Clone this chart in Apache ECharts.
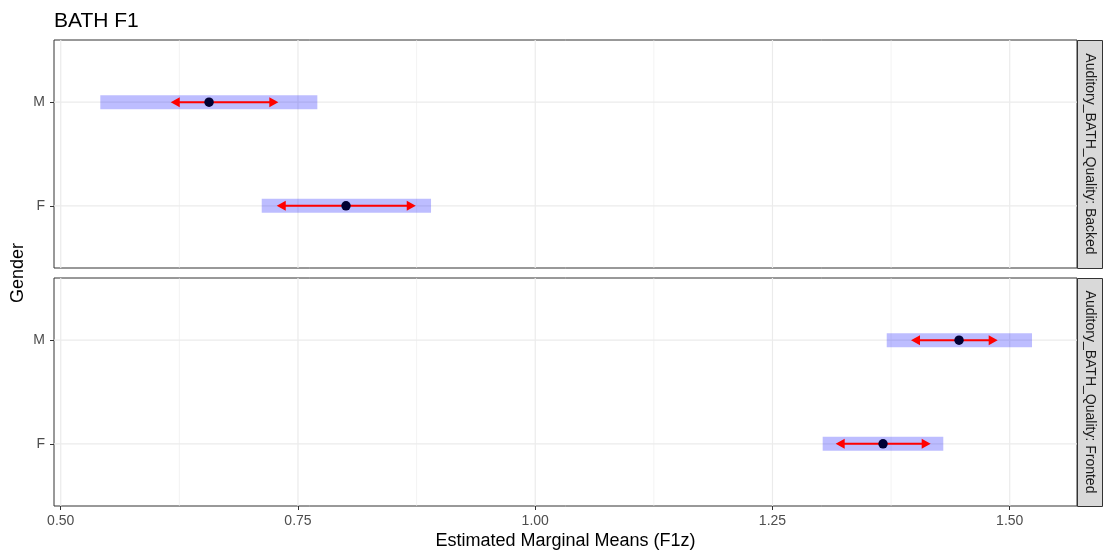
<!DOCTYPE html>
<html><head><meta charset="utf-8">
<script src="https://cdn.jsdelivr.net/npm/echarts@6/dist/echarts.min.js"></script>
<style>html,body{margin:0;padding:0;background:#fff}#chart{width:1103px;height:553px}</style>
</head><body><div id="chart"></div>
<script>
const categories = ['F', 'M'];
const panelLabels = ['Auditory_BATH_Quality: Backed', 'Auditory_BATH_Quality: Fronted'];
// Backed panel (order F, M)
const backedMean = [0.8006, 0.6563];
const backedLower = [0.7118, 0.5417];
const backedUpper = [0.8902, 0.7704];
const backedArrowLeft = [0.7276, 0.6159];
const backedArrowRight = [0.8741, 0.7293];
// Fronted panel (order F, M)
const frontedMean = [1.3665, 1.4466];
const frontedLower = [1.3029, 1.3704];
const frontedUpper = [1.4300, 1.5235];
const frontedArrowLeft = [1.3166, 1.3960];
const frontedArrowRight = [1.4167, 1.4873];
// axis breaks
const xMajor = [0.5, 0.75, 1.0, 1.25, 1.5];
const xMinor = [0.625, 0.875, 1.125, 1.375];
const yPos = [1, 2];

const FONT = '"Liberation Sans", Arial, Helvetica, sans-serif';
const XMIN = 0.4929, XMAX = 1.5709, YMIN = 0.4, YMAX = 2.6;
const grids = [
  {left: 54, top: 40, width: 1023, height: 228},
  {left: 54, top: 278, width: 1023, height: 228}
];

function rows(lower, upper, mean, al, ar) {
  return categories.map((c, i) => [yPos[i], lower[i], upper[i], mean[i], al[i], ar[i]]);
}
const panelData = [
  rows(backedLower, backedUpper, backedMean, backedArrowLeft, backedArrowRight),
  rows(frontedLower, frontedUpper, frontedMean, frontedArrowLeft, frontedArrowRight)
];

function vGrid(width) {
  return function (params, api) {
    const x = api.coord([api.value(0), 1.5])[0];
    const cs = params.coordSys;
    return {type: 'line', shape: {x1: x, y1: cs.y, x2: x, y2: cs.y + cs.height},
      style: {stroke: '#ebebeb', lineWidth: width}};
  };
}
function hGrid(params, api) {
  const y = api.coord([1, api.value(1)])[1];
  const cs = params.coordSys;
  return {type: 'line', shape: {x1: cs.x, y1: y, x2: cs.x + cs.width, y2: y},
    style: {stroke: '#ebebeb', lineWidth: 1.2}};
}
function renderEst(params, api) {
  const yv = api.value(0);
  const lo = api.coord([api.value(1), yv]);
  const hi = api.coord([api.value(2), yv]);
  const m = api.coord([api.value(3), yv]);
  const al = api.coord([api.value(4), yv]);
  const ar = api.coord([api.value(5), yv]);
  const y = lo[1];
  const h = 14, ah = 9, aw = 5;
  return {type: 'group', children: [
    {type: 'rect', shape: {x: lo[0], y: y - h / 2, width: hi[0] - lo[0], height: h},
      style: {fill: 'rgba(0,0,255,0.26)'}},
    {type: 'line', shape: {x1: al[0] + ah - 1, y1: y, x2: ar[0] - ah + 1, y2: y},
      style: {stroke: '#ff0000', lineWidth: 2}},
    {type: 'polygon', shape: {points: [[al[0], y], [al[0] + ah, y - aw], [al[0] + ah, y + aw]]},
      style: {fill: '#ff0000'}},
    {type: 'polygon', shape: {points: [[ar[0], y], [ar[0] - ah, y - aw], [ar[0] - ah, y + aw]]},
      style: {fill: '#ff0000'}},
    {type: 'circle', shape: {cx: m[0], cy: y, r: 4.7}, style: {fill: '#000033'}}
  ]};
}

const xAxes = grids.map((g, i) => ({
  type: 'value', gridIndex: i, min: XMIN, max: XMAX,
  splitLine: {show: false}, axisLine: {show: false},
  axisTick: {show: i === 1, customValues: xMajor, length: 4, lineStyle: {color: '#333', width: 1}},
  axisLabel: {show: i === 1, customValues: xMajor, margin: 8, fontSize: 14, color: '#4d4d4d',
    fontFamily: FONT, formatter: v => v.toFixed(2)},
  name: i === 1 ? 'Estimated Marginal Means (F1z)' : '',
  nameLocation: 'middle', nameGap: 26,
  nameTextStyle: {fontSize: 18, color: '#000', fontFamily: FONT}
}));
const yAxes = grids.map((g, i) => ({
  type: 'value', gridIndex: i, min: YMIN, max: YMAX,
  splitLine: {show: false}, axisLine: {show: false},
  axisTick: {show: true, customValues: yPos, length: 4, lineStyle: {color: '#333', width: 1}},
  axisLabel: {customValues: yPos, margin: 9, fontSize: 14, color: '#4d4d4d', fontFamily: FONT,
    formatter: v => categories[Math.round(v) - 1]}
}));

const series = [];
grids.forEach((g, i) => {
  series.push({type: 'custom', xAxisIndex: i, yAxisIndex: i, renderItem: vGrid(0.6),
    data: xMinor.map(v => [v, 1.5]), encode: {x: 0, y: 1}, silent: true, z: 1});
  series.push({type: 'custom', xAxisIndex: i, yAxisIndex: i, renderItem: vGrid(1.2),
    data: xMajor.map(v => [v, 1.5]), encode: {x: 0, y: 1}, silent: true, z: 1});
  series.push({type: 'custom', xAxisIndex: i, yAxisIndex: i, renderItem: hGrid,
    data: yPos.map(v => [1, v]), encode: {x: 0, y: 1}, silent: true, z: 1});
  series.push({type: 'custom', xAxisIndex: i, yAxisIndex: i, renderItem: renderEst,
    data: panelData[i], encode: {x: [1, 2, 3, 4, 5], y: 0}, z: 5});
});

const graphics = [];
grids.forEach((g, i) => {
  graphics.push({type: 'rect', left: 1077, top: g.top, z: 10,
    shape: {width: 25, height: g.height},
    style: {fill: '#d9d9d9', stroke: '#333', lineWidth: 1}});
  graphics.push({type: 'text', x: 1090, y: g.top + g.height / 2, rotation: -Math.PI / 2, z: 11,
    style: {text: panelLabels[i], fontSize: 14, fill: '#1a1a1a', fontFamily: FONT,
      align: 'center', verticalAlign: 'middle'}});
});
graphics.push({type: 'text', x: 18, y: 273, rotation: Math.PI / 2, z: 11,
  style: {text: 'Gender', fontSize: 18, fill: '#000', fontFamily: FONT,
    align: 'center', verticalAlign: 'middle'}});

const chart = echarts.init(document.getElementById('chart'), null, {renderer: 'canvas'});
chart.setOption({
  animation: false,
  backgroundColor: '#fff',
  title: {text: 'BATH F1', left: 49, top: 6,
    textStyle: {fontSize: 21, fontWeight: 'normal', color: '#000', fontFamily: FONT}},
  grid: grids.map(g => ({left: g.left, top: g.top, width: g.width, height: g.height,
    outerBoundsMode: 'none', containLabel: false,
    show: true, backgroundColor: '#fff', borderColor: '#333', borderWidth: 1})),
  xAxis: xAxes,
  yAxis: yAxes,
  series: series,
  graphic: graphics
});
</script></body></html>
